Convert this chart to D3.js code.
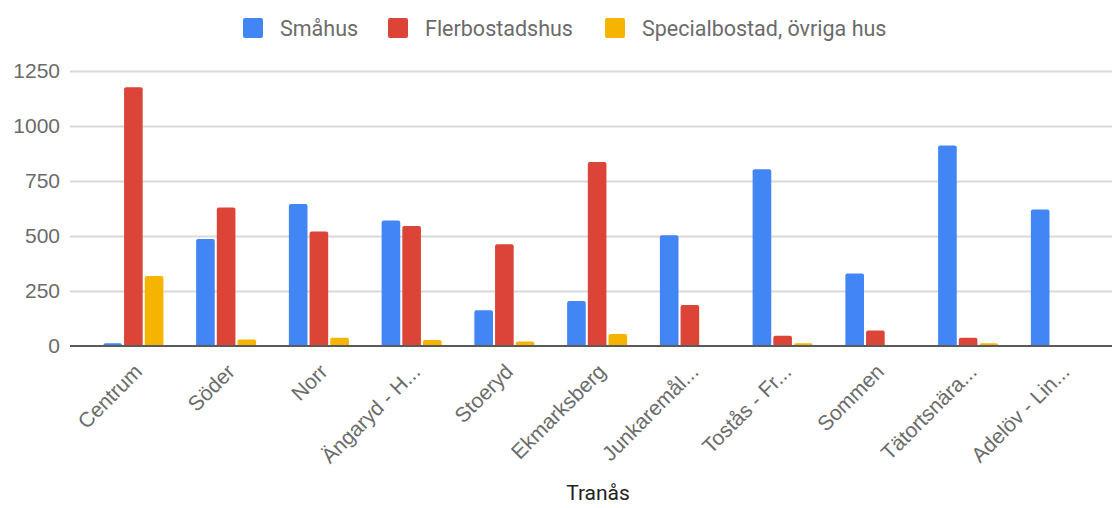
<!DOCTYPE html>
<html><head><meta charset="utf-8">
<script src="https://cdn.jsdelivr.net/npm/d3@7"></script>
<style>
html,body{margin:0;padding:0;background:#fff;}
svg{display:block;font-family:Roboto,"Noto Sans",sans-serif;}
</style></head>
<body><svg id="chart" width="1112" height="508"></svg>
<script>
const categories = ["Centrum","Söder","Norr","Ängaryd - H...","Stoeryd","Ekmarksberg","Junkaremål...","Tostås - Fr...","Sommen","Tätortsnära...","Adelöv - Lin..."];
const seriesNames = ["Småhus","Flerbostadshus","Specialbostad, övriga hus"];
const smahus = [12,486,645,570,162,205,503,803,329,911,620];
const flerbostadshus = [1176,629,520,545,462,836,186,47,70,38,2];
const specialbostad = [318,29,38,27,20,55,0,12,0,12,0];
const yTicks = [0,250,500,750,1000,1250];
const xTitle = "Tranås";
const colors = ["#4285F4","#DB4437","#F4B400"];

const svg = d3.select("#chart");
const series = [smahus, flerbostadshus, specialbostad];
const rows = categories.map((c,i)=>({cat:c, vals: seriesNames.map((s,j)=>({s, v: series[j][i], j}))}));

const x0 = d3.scaleBand().domain(categories).range([87,1107.25]).padding(0);
const groupW = 60;
const x1 = d3.scaleBand().domain(seriesNames).range([(x0.bandwidth()-groupW)/2,(x0.bandwidth()+groupW)/2]).paddingInner(0.1).paddingOuter(0);
const y = d3.scaleLinear().domain([0,1250]).range([346,71]);

// gridlines
const yAxis = d3.axisLeft(y).tickValues(yTicks).tickFormat(d3.format("d")).tickSize(-(1112-70)).tickPadding(10);
const gy = svg.append("g").attr("transform","translate(70,0)").call(yAxis);
gy.select(".domain").remove();
gy.selectAll(".tick line").attr("stroke","#d9d9d9").attr("stroke-width",2);
gy.selectAll(".tick text").attr("fill","#6b6b6b").style("font-size","21px").attr("x",-10);
gy.selectAll(".tick").filter(d=>d===0).select("line").attr("stroke","none");

// bars
const g = svg.append("g");
const grp = g.selectAll("g.grp").data(rows).join("g").attr("class","grp")
  .attr("transform",d=>`translate(${x0(d.cat)},0)`);
grp.selectAll("rect").data(d=>d.vals.filter(v=>v.v>0)).join("rect")
  .attr("x",d=>x1(d.s)).attr("width",x1.bandwidth())
  .attr("y",d=>y(d.v)).attr("height",d=>Math.max(0,y(0)-y(d.v)+1))
  .attr("rx",2).attr("fill",d=>colors[d.j]);

// baseline
svg.append("line").attr("x1",70).attr("x2",1112).attr("y1",y(0)).attr("y2",y(0))
  .attr("stroke","#5a5a5a").attr("stroke-width",2);

// x axis labels
const xAxis = d3.axisBottom(x0).tickSize(0).tickPadding(0);
const gx = svg.append("g").attr("transform",`translate(0,${y(0)})`).call(xAxis);
gx.select(".domain").remove();
gx.selectAll(".tick text").attr("fill","#6b6b6b").style("font-size","21px")
  .attr("text-anchor","end").attr("dy",0).attr("y",0)
  .attr("transform","translate(10,27) rotate(-45)");

// x title
svg.append("text").attr("x",598).attr("y",500).attr("text-anchor","middle")
  .attr("fill","#222").style("font-size","21px").text(xTitle);

// legend
const legX = [243,388,605];
const leg = svg.append("g");
seriesNames.forEach((s,i)=>{
  leg.append("rect").attr("x",legX[i]).attr("y",18).attr("width",20).attr("height",20).attr("rx",2).attr("fill",colors[i]);
  leg.append("text").attr("x",legX[i]+37).attr("y",35.5).attr("fill","#6b6b6b").style("font-size","21.5px").text(s);
});
</script></body></html>
